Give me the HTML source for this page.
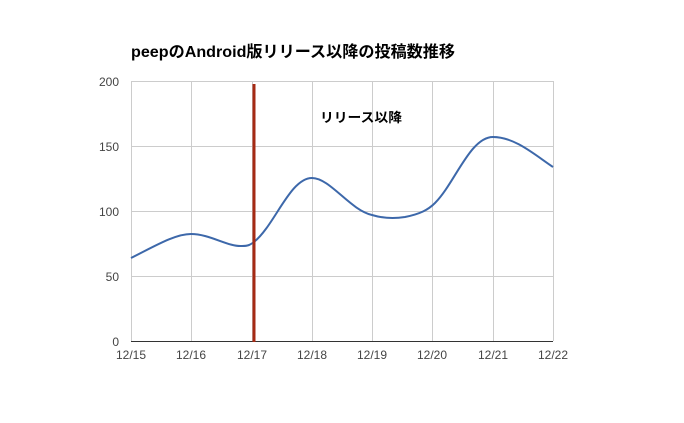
<!DOCTYPE html>
<html><head><meta charset="utf-8"><style>body{margin:0;background:#fff}svg{display:block}</style></head><body>
<svg width="684" height="423" xmlns="http://www.w3.org/2000/svg" font-family="Liberation Sans, Noto Sans CJK JP, sans-serif">
<rect width="684" height="423" fill="#fff"/>
<text x="131" y="57" font-size="16" font-weight="bold" fill="#000" textLength="324" lengthAdjust="spacingAndGlyphs">peepのAndroid版リリース以降の投稿数推移</text>
<g stroke="#cccccc" stroke-width="1">
<line x1="131" y1="81.5" x2="553" y2="81.5"/><line x1="131" y1="146.5" x2="553" y2="146.5"/>
<line x1="131" y1="211.5" x2="553" y2="211.5"/><line x1="131" y1="276.5" x2="553" y2="276.5"/>
<line x1="131.5" y1="81" x2="131.5" y2="341"/><line x1="191.5" y1="81" x2="191.5" y2="341"/>
<line x1="252.5" y1="81" x2="252.5" y2="341"/><line x1="312.5" y1="81" x2="312.5" y2="341"/>
<line x1="372.5" y1="81" x2="372.5" y2="341"/><line x1="432.5" y1="81" x2="432.5" y2="341"/>
<line x1="493.5" y1="81" x2="493.5" y2="341"/><line x1="553.5" y1="81" x2="553.5" y2="341"/>
</g>
<line x1="131" y1="341.5" x2="553" y2="341.5" stroke="#333" stroke-width="1"/>
<g font-size="12" fill="#444" text-anchor="end">
<text x="119" y="86">200</text><text x="119" y="151">150</text><text x="119" y="216">100</text><text x="119" y="281">50</text><text x="119" y="346">0</text>
</g>
<g font-size="12" fill="#444" text-anchor="middle">
<text x="131" y="359">12/15</text><text x="191" y="359">12/16</text><text x="252" y="359">12/17</text><text x="312" y="359">12/18</text>
<text x="372" y="359">12/19</text><text x="432" y="359">12/20</text><text x="493" y="359">12/21</text><text x="553" y="359">12/22</text>
</g>
<path d="M131,258 C155,246 175,234 191,234 C210,234 228,247 242,246 C248,246 250,245 254,242 C275,225 290,178 312,178 C330,178 350,210 372,215 C382,218 392,219 405,217 C420,214 428,210 435,203 C455,183 470,137 493,137 C515,137 535,155 553,167" fill="none" stroke="#3d68aa" stroke-width="2"/>
<line x1="254" y1="84" x2="254" y2="342" stroke="#a52a14" stroke-width="3"/>
<text x="320" y="122" font-size="13" font-weight="bold" fill="#000" textLength="82" lengthAdjust="spacingAndGlyphs">リリース以降</text>
</svg>
</body></html>
